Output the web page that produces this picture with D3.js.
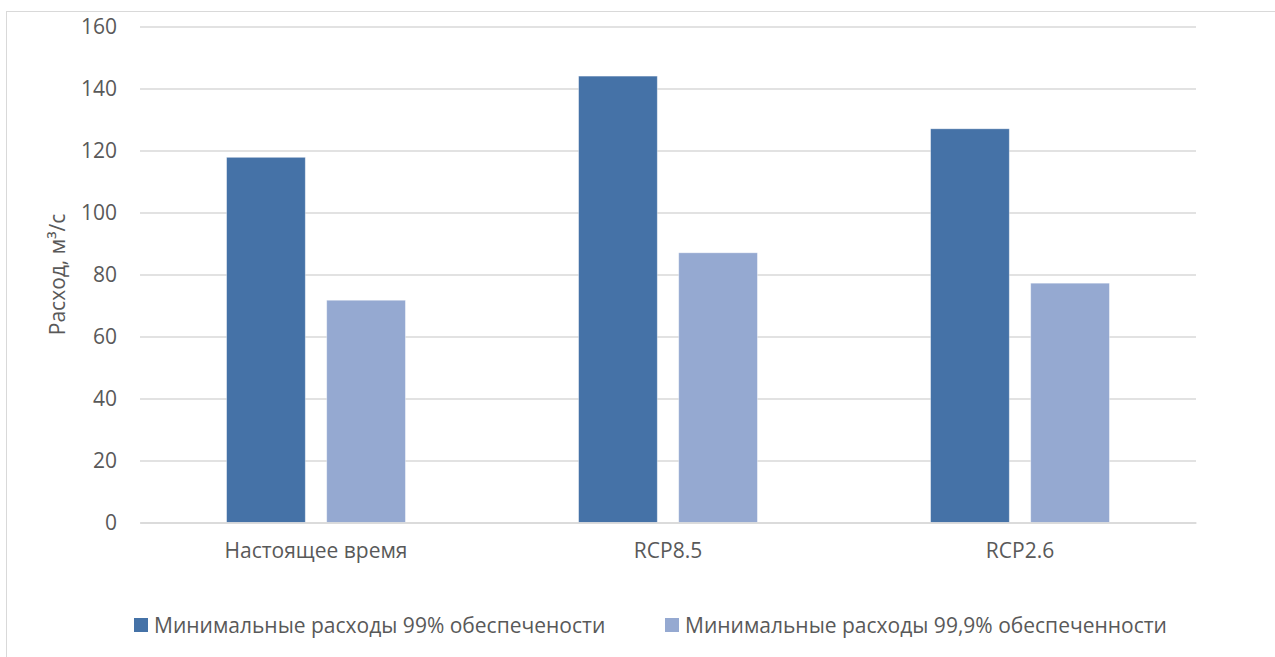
<!DOCTYPE html>
<html>
<head>
<meta charset="utf-8">
<script src="https://cdn.jsdelivr.net/npm/d3@7/dist/d3.min.js"></script>
<style>
  html, body { margin: 0; padding: 0; background: #fff; }
  svg { display: block; font-family: "Open Sans", "Noto Sans", sans-serif; }
</style>
</head>
<body>
<svg id="chart" width="1275" height="657"></svg>
<script>
// Data
const categories = ["Настоящее время", "RCP8.5", "RCP2.6"];
const seriesNames = ["Минимальные расходы 99% обеспечености", "Минимальные расходы 99,9% обеспеченности"];
const flow99 = [117.8, 144.0, 127.0];
const flow999 = [71.7, 87.0, 77.2];
const yTicks = [0, 20, 40, 60, 80, 100, 120, 140, 160];
const yTitle = "Расход, м³/с";

const colors = ["#4572A7", "#95A9D1"];
const textColor = "#595959";
const gridColor = "#D9D9D9";
const fontSize = 21;

const svg = d3.select("#chart");

// Outer chart frame
svg.append("rect")
  .attr("x", 6.5).attr("y", 11.5)
  .attr("width", 1300).attr("height", 700)
  .attr("fill", "#fff").attr("stroke", gridColor).attr("stroke-width", 1);

const plot = { left: 140, right: 1196, top: 26.5, bottom: 522.5 };

const x0 = d3.scaleBand()
  .domain(categories)
  .range([plot.left, plot.right])
  .paddingInner(0).paddingOuter(0);

const groupWidth = 178.8;
const x1 = d3.scaleBand()
  .domain(d3.range(seriesNames.length))
  .range([-groupWidth / 2, groupWidth / 2])
  .paddingInner(0.214).paddingOuter(0);

const y = d3.scaleLinear()
  .domain([0, 160])
  .range([plot.bottom, plot.top]);

// Gridlines and y tick labels
const yAxis = d3.axisLeft(y)
  .tickValues(yTicks)
  .tickSize(-(plot.right - plot.left))
  .tickPadding(23)
  .tickFormat(d3.format("d"));

const gy = svg.append("g")
  .attr("transform", `translate(${plot.left},0)`)
  .call(yAxis);
gy.attr("font-size", null).attr("font-family", null);
gy.select(".domain").remove();
gy.selectAll(".tick line").attr("stroke", gridColor).attr("stroke-width", 1.3);
gy.selectAll(".tick text")
  .attr("fill", textColor)
  .style("font-size", fontSize + "px");

// Bars
const rows = categories.map((c, i) => ({ cat: c, values: [flow99[i], flow999[i]] }));

const groups = svg.append("g").selectAll("g")
  .data(rows)
  .join("g")
  .attr("transform", d => `translate(${x0(d.cat) + x0.bandwidth() / 2},0)`);

groups.selectAll("rect")
  .data(d => d.values.map((v, k) => ({ k, v })))
  .join("rect")
  .attr("x", d => x1(d.k))
  .attr("width", x1.bandwidth())
  .attr("y", d => y(d.v))
  .attr("height", d => y(0) - y(d.v))
  .attr("fill", d => colors[d.k])
  .attr("stroke", "rgba(255,255,255,0.45)")
  .attr("stroke-width", 0.8);

// Category axis
const xAxis = d3.axisBottom(x0).tickSize(0).tickPadding(21);
const gx = svg.append("g")
  .attr("transform", `translate(0,${plot.bottom})`)
  .call(xAxis);
gx.attr("font-size", null).attr("font-family", null);
gx.select(".domain").attr("stroke", gridColor).attr("stroke-width", 1.3);
gx.selectAll(".tick text")
  .attr("fill", textColor)
  .style("font-size", fontSize + "px");

// Y-axis title
svg.append("text")
  .attr("transform", `translate(65,${(plot.top + plot.bottom) / 2}) rotate(-90)`)
  .attr("text-anchor", "middle")
  .attr("fill", textColor)
  .style("font-size", fontSize + "px")
  .text(yTitle);

// Legend
const legendItems = [
  { x: 134, name: seriesNames[0], color: colors[0] },
  { x: 665, name: seriesNames[1], color: colors[1] }
];
const lg = svg.append("g").selectAll("g")
  .data(legendItems)
  .join("g")
  .attr("transform", d => `translate(${d.x},618)`);
lg.append("rect")
  .attr("width", 14).attr("height", 14)
  .attr("fill", d => d.color);
lg.append("text")
  .attr("x", 20).attr("y", 15)
  .attr("fill", textColor)
  .style("font-size", fontSize + "px")
  .text(d => d.name);
</script>
</body>
</html>
